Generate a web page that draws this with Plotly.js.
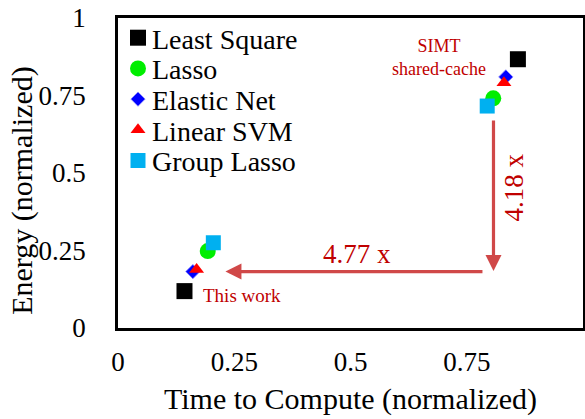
<!DOCTYPE html>
<html><head><meta charset="utf-8">
<script src="https://cdn.plot.ly/plotly-3.0.1.min.js"></script>
<style>html,body{margin:0;padding:0;background:#fff}#chart{width:585px;height:419px}</style>
</head><body><div id="chart"></div>
<script>
// Series order: [This work, SIMT shared-cache]
const seriesNames = ['Least Square', 'Lasso', 'Elastic Net', 'Linear SVM', 'Group Lasso'];
const timeLeastSquare   = [0.143, 0.860];
const energyLeastSquare = [0.119, 0.867];
const timeLasso         = [0.193, 0.807];
const energyLasso       = [0.248, 0.741];
const timeElasticNet    = [0.161, 0.834];
const energyElasticNet  = [0.182, 0.810];
const timeLinearSVM     = [0.169, 0.830];
const energyLinearSVM   = [0.189, 0.791];
const timeGroupLasso    = [0.205, 0.794];
const energyGroupLasso  = [0.275, 0.716];
const tickVals = [0, 0.25, 0.5, 0.75, 1];
const tickText = ['0', '0.25', '0.5', '0.75', '1'];
const speedupTimeLabel = '4.77 x';
const speedupEnergyLabel = '4.18 x';

const FONT = '"Liberation Serif", "Times New Roman", serif';
const styles = [
  {symbol: 'square', color: '#000000', size: 16},
  {symbol: 'circle', color: '#00ee00', size: 16},
  {symbol: 'diamond', color: '#0000ff', size: 11},
  {symbol: 'triangle-up', color: '#ff0000', size: 13},
  {symbol: 'square', color: '#00b0f0', size: 15}
];
const xs = [timeLeastSquare, timeLasso, timeElasticNet, timeLinearSVM, timeGroupLasso];
const ys = [energyLeastSquare, energyLasso, energyElasticNet, energyLinearSVM, energyGroupLasso];

const traces = seriesNames.map((n, i) => ({
  type: 'scatter', mode: 'markers', name: n, x: xs[i], y: ys[i],
  marker: {symbol: styles[i].symbol, color: styles[i].color, size: styles[i].size,
           line: {width: i === 2 ? 0.8 : 0, color: '#8888ff'}},
  hoverinfo: 'x+y+name'
}));

const ARROW = '#d04848', TXT = '#c00000';
const annotations = [
  // vertical arrow (energy reduction)
  {x: 0.8075, y: 0.184, ax: 0.8075, ay: 0.674, xref: 'x', yref: 'y', axref: 'x', ayref: 'y',
   text: '', showarrow: true, arrowhead: 2, arrowsize: 1, arrowwidth: 3.2, arrowcolor: ARROW},
  // horizontal arrow (time reduction)
  {x: 0.231, y: 0.182, ax: 0.787, ay: 0.182, xref: 'x', yref: 'y', axref: 'x', ayref: 'y',
   text: '', showarrow: true, arrowhead: 2, arrowsize: 1, arrowwidth: 3.2, arrowcolor: ARROW},
  {x: 0.513, y: 0.240, xref: 'x', yref: 'y', text: speedupTimeLabel, showarrow: false,
   font: {family: FONT, size: 27, color: TXT}},
  {x: 0.851, y: 0.452, xref: 'x', yref: 'y', text: speedupEnergyLabel, showarrow: false, textangle: -90,
   font: {family: FONT, size: 27, color: TXT}},
  {x: 0.690, y: 0.871, xref: 'x', yref: 'y', text: 'SIMT<br>shared-cache', showarrow: false,
   font: {family: FONT, size: 18, color: TXT}},
  {x: 0.267, y: 0.106, xref: 'x', yref: 'y', text: 'This work', showarrow: false,
   font: {family: FONT, size: 19, color: TXT}},
  // y-axis title (placed as in the reference, slightly below the axis centre)
  {x: -0.207, y: 0.445, xref: 'paper', yref: 'paper', xanchor: 'center', yanchor: 'middle',
   text: 'Energy (normalized)', showarrow: false,
   textangle: -90, font: {family: FONT, size: 30, color: '#000'}}
];

const layout = {
  width: 585, height: 419,
  margin: {l: 118, r: 2, t: 18, b: 91},
  paper_bgcolor: '#ffffff', plot_bgcolor: '#ffffff',
  font: {family: FONT, size: 27, color: '#000000'},
  showlegend: true,
  legend: {x: 0, y: 1, xanchor: 'left', yanchor: 'top', bgcolor: 'rgba(0,0,0,0)',
           font: {family: FONT, size: 28, color: '#000'}},
  xaxis: {range: [0, 1], tickvals: tickVals, ticktext: tickText, showgrid: false, zeroline: false,
          showline: true, mirror: true, linecolor: '#000', linewidth: 2.5, ticks: '',
          ticklabelstandoff: 8,
          title: {text: 'Time to Compute (normalized)', font: {family: FONT, size: 30}, standoff: 12}},
  yaxis: {range: [0, 1], tickvals: tickVals, ticktext: tickText, showgrid: false, zeroline: false,
          showline: true, mirror: true, linecolor: '#000', linewidth: 2.5, ticks: '',
          ticklabelstandoff: 24},
  annotations: annotations
};

Plotly.newPlot('chart', traces, layout, {displayModeBar: false}).then(gd => {
  // tighten legend row spacing and text gap to match reference
  const items = gd.querySelectorAll('.legend .traces');
  let y0 = null;
  items.forEach((g, i) => {
    const m = /translate\(\s*([-\d.]+)[ ,]+([-\d.]+)/.exec(g.getAttribute('transform') || '');
    const x = m ? parseFloat(m[1]) : 0;
    if (y0 === null) y0 = m ? parseFloat(m[2]) : 0;
    g.setAttribute('transform', 'translate(' + x + ',' + (y0 - 5 + i * 30.7) + ')');
    const t = g.querySelector('.legendtext');
    if (t) t.setAttribute('x', 34);
  });
});
</script></body></html>
